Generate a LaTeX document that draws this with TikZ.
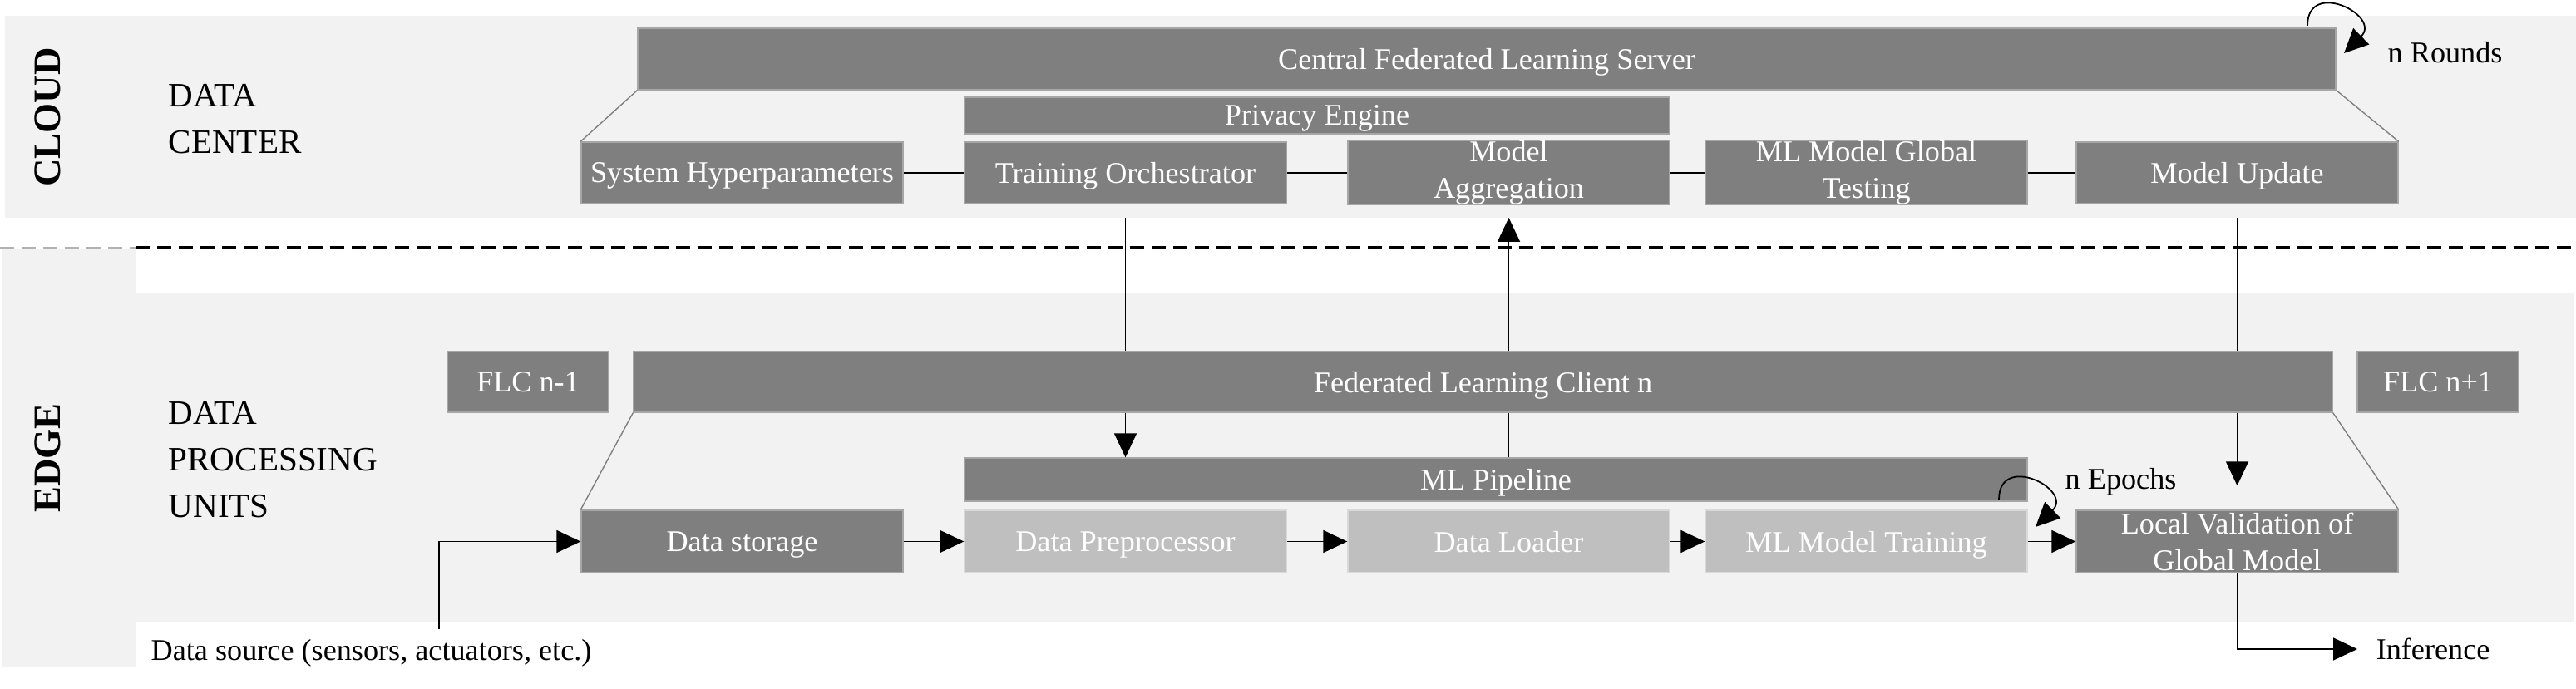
\documentclass[tikz,border=0pt]{standalone}
\usepackage{fontspec}
\setmainfont{Liberation Serif}
\usetikzlibrary{arrows.meta}
\definecolor{panel}{HTML}{F2F2F2}
\definecolor{boxdark}{HTML}{7F7F7F}
\definecolor{boxlight}{HTML}{BFBFBF}
\definecolor{rimdark}{HTML}{A6A6A6}
\definecolor{rimlight}{HTML}{D9D9D9}

\begin{document}
\begin{tikzpicture}[
    >={Triangle[length=2.9mm,width=2.7mm]},
    darkbox/.style={draw=rimdark, fill=boxdark, line width=0.4pt, text=white,
      inner sep=0pt, align=center, font=\fontsize{10.3}{12.5}\selectfont},
    lightbox/.style={darkbox, draw=rimlight, fill=boxlight},
    rowbox/.style={minimum width=3.87cm, minimum height=0.74cm},
    flat/.style={text depth=0pt},
    tier/.style={font=\fontsize{11.7}{16}\selectfont, align=left, anchor=west, inner sep=0pt},
    zone/.style={font=\fontsize{13.2}{14}\selectfont\bfseries, rotate=90, inner sep=0pt},
    note/.style={font=\fontsize{10.3}{12.5}\selectfont, anchor=west, inner sep=0pt},
    link/.style={line width=0.5pt},
    funnel/.style={draw=boxdark, line width=0.4pt}
  ]
  \useasboundingbox (0,0) rectangle (30.98,8.29);

  % Panels
  \fill[panel] (0.06,5.67) rectangle (30.98,8.10);
  \fill[panel] (0.03,0.27) rectangle (1.63,5.30);
  \fill[panel] (1.63,0.81) rectangle (30.96,4.77);
  \coordinate (cloudbot) at (0,5.67);
  \draw[gray!60, line width=0.5pt, dash pattern=on 0.17cm off 0.09cm] (0,5.31) -- (1.63,5.31);
  \draw[line width=1pt, dash pattern=on 0.17cm off 0.09cm] (1.63,5.31) -- (30.98,5.31);

  % Layer labels
  \node[zone] (cloudlbl) at (0.575,6.88) {CLOUD};
  \node[zone] (edgelbl) at (0.57,2.78) {EDGE};
  \node[tier] (dc) at (2.02,6.855) {DATA\\CENTER};
  \node[tier] (dpu) at (2.02,2.76) {DATA\\PROCESSING\\UNITS};

  % Cloud: server
  \node[darkbox, flat, minimum width=20.42cm, minimum height=0.74cm] (server) at (17.88,7.58) {Central Federated Learning Server};
  \node[darkbox, flat, minimum width=8.48cm, minimum height=0.44cm] (privacy) at (15.84,6.90) {Privacy Engine};
  \node[darkbox, flat, rowbox] (hyper) at (8.925,6.21) {System Hyperparameters};
  \node[darkbox, flat, rowbox] (orch) at (13.535,6.21) {Training Orchestrator};
  \node[darkbox, rowbox] (agg) at (18.145,6.21) {Model\\Aggregation};
  \node[darkbox, rowbox] (test) at (22.445,6.21) {ML Model Global\\Testing};
  \node[darkbox, flat, rowbox] (update) at (26.905,6.21) {Model Update};
  \node[note] (rounds) at (28.71,7.66) {n Rounds};

  % Edge: clients
  \node[darkbox, flat, minimum width=1.94cm, minimum height=0.73cm] (flcprev) at (6.35,3.695) {FLC n-1};
  \node[darkbox, flat, minimum width=20.43cm, minimum height=0.73cm] (flc) at (17.835,3.695) {Federated Learning Client n};
  \node[darkbox, flat, minimum width=1.94cm, minimum height=0.73cm] (flcnext) at (29.32,3.695) {FLC n+1};
  \node[darkbox, flat, minimum width=12.78cm, minimum height=0.52cm] (pipe) at (17.99,2.52) {ML Pipeline};
  \node[darkbox, flat, rowbox, minimum height=0.75cm] (store) at (8.925,1.775) {Data storage};
  \node[lightbox, flat, rowbox, minimum height=0.75cm] (prep) at (13.535,1.775) {Data Preprocessor};
  \node[lightbox, flat, rowbox, minimum height=0.75cm] (load) at (18.145,1.775) {Data Loader};
  \node[lightbox, flat, rowbox, minimum height=0.75cm] (train) at (22.445,1.775) {ML Model Training};
  \node[darkbox, rowbox, minimum height=0.75cm] (valid) at (26.905,1.775) {Local Validation of\\Global Model};
  \node[note] (epochs) at (24.83,2.49) {n Epochs};
  \node[note] (src) at (1.81,0.43) {Data source (sensors, actuators, etc.)};
  \node[note] (infer) at (28.57,0.48) {Inference};
  \coordinate (srcpt) at (5.28,0.72);

  % Funnels
  \draw[funnel] (server.south west) -- (hyper.north west);
  \draw[funnel] (server.south east) -- (update.north east);
  \draw[funnel] (flc.south west) -- (store.north west);
  \draw[funnel] (flc.south east) -- (valid.north east);

  % Connectors
  \draw[link] (hyper) -- (orch) -- (agg) -- (test) -- (update);
  \draw[link,->] (srcpt) |- (store.west);
  \draw[link,->] (store) -- (prep);
  \draw[link,->] (prep) -- (load);
  \draw[link,->] (load) -- (train);
  \draw[link,->] (train) -- (valid);
  \draw[link,->,shorten >=0.22cm] (valid.south) |- (infer.west);

  \draw[link] (orch |- cloudbot) -- (orch |- flc.north);
  \draw[link,->] (orch |- flc.south) -- (orch |- pipe.north);
  \draw[link] (agg |- pipe.north) -- (agg |- flc.south);
  \draw[link,->] (agg |- flc.north) -- (agg |- cloudbot);
  \draw[link] (update |- cloudbot) -- (update |- flc.north);
  \draw[link,->,shorten >=0.29cm] (update |- flc.south) -- (valid.north);

  % Loops
  \draw[link,->] (27.75,7.98) .. controls (27.75,8.55) and (28.65,8.10) .. (28.19,7.65);
  \draw[link,->] (24.04,2.28) .. controls (24.04,2.85) and (24.94,2.40) .. (24.48,1.95);
\end{tikzpicture}
\end{document}
